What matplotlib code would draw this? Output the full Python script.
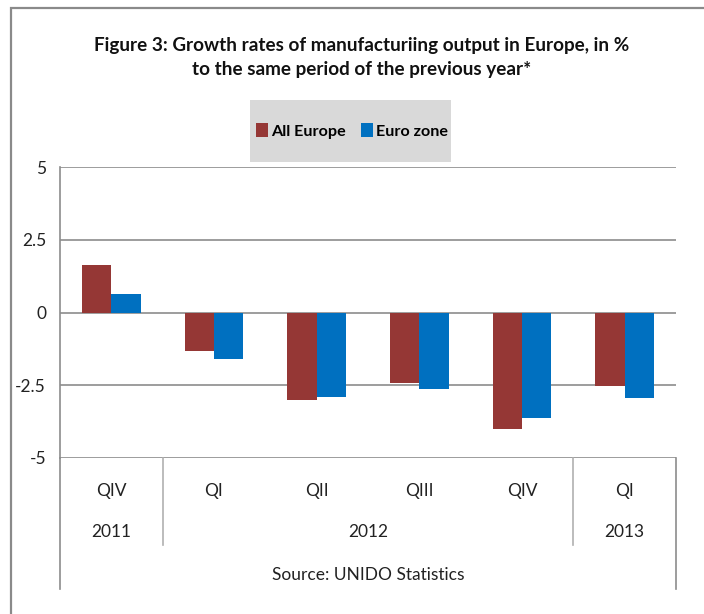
import matplotlib
matplotlib.use("Agg")
import matplotlib.pyplot as plt
import matplotlib.transforms as mtransforms
from matplotlib.patches import Rectangle
import numpy as np

plt.rcParams['font.family'] = ['Lato', 'DejaVu Sans']

quarters = ["QIV", "QI", "QII", "QIII", "QIV", "QI"]
years = ["2011", "2012", "2013"]
year_spans = [(0, 0), (1, 4), (5, 5)]
all_europe = [1.64, -1.31, -3.00, -2.43, -3.99, -2.54]
euro_zone = [0.62, -1.59, -2.91, -2.64, -3.62, -2.95]
series_names = ["All Europe", "Euro zone"]
yticks = [5, 2.5, 0, -2.5, -5]
ytick_labels = ["5", "2.5", "0", "-2.5", "-5"]
title = "Figure 3: Growth rates of manufacturiing output in Europe, in %\nto the same period of the previous year*"
source = "Source: UNIDO Statistics"

c_ae = "#953735"
c_ez = "#0070C0"
grid_c = "#8c8c8c"

W, H = 704, 614
fig = plt.figure(figsize=(W / 100, H / 100), dpi=100)

def fx(px):
    return px / W

def fy(py):
    return 1 - py / H

# outer chart border
fig.patches.append(Rectangle((fx(11), fy(700)), fx(800), fy(8) - fy(700),
                             transform=fig.transFigure, fill=False,
                             edgecolor="#8a8a8a", linewidth=1.6))

left, right, top, bottom = 60, 676, 167, 458
ax = fig.add_axes([fx(left), fy(bottom), fx(right - left), fy(top) - fy(bottom)])

x = np.arange(len(quarters))
bw = 0.285
ax.bar(x - bw / 2, all_europe, bw, color=c_ae, label=series_names[0], zorder=3)
ax.bar(x + bw / 2, euro_zone, bw, color=c_ez, label=series_names[1], zorder=3)

ax.set_xlim(-0.5, len(quarters) - 0.5)
ax.set_ylim(-5, 5)
ax.set_yticks(yticks)
ax.set_yticklabels(ytick_labels)
ax.tick_params(axis='y', length=0, pad=10, labelsize=12.5, colors="#222222")
ax.set_xticks([])
for yv in yticks:
    ax.axhline(yv, color=grid_c, linewidth=1.2, zorder=1)
for s in ["top", "right", "bottom"]:
    ax.spines[s].set_visible(False)
ax.spines["left"].set_color(grid_c)
ax.spines["left"].set_linewidth(1.2)

# category table below
trans = mtransforms.blended_transform_factory(ax.transData, ax.transAxes)
ph = bottom - top  # axes height in px

def ay(py):
    return (bottom - py) / ph

# outer table verticals
for xv, yend in [(-0.5, 589), (len(quarters) - 0.5, 589)]:
    ax.plot([xv, xv], [0, ay(yend)], transform=trans, color=grid_c,
            linewidth=1.2, clip_on=False)
# group separators
for a, b in year_spans[:-1]:
    xv = b + 0.5
    ax.plot([xv, xv], [0, ay(545)], transform=trans, color="#b0b0b0",
            linewidth=1.2, clip_on=False)

for i, q in enumerate(quarters):
    ax.text(i, ay(491), q, transform=trans, ha="center", va="center",
            fontsize=12.5, color="#222222")
for yr, (a, b) in zip(years, year_spans):
    ax.text((a + b) / 2, ay(532), yr, transform=trans, ha="center", va="center",
            fontsize=12.5, color="#222222")
ax.text(0.5, ay(575), source, transform=ax.transAxes, ha="center", va="center",
        fontsize=12.5, color="#222222")

# title
fig.text(fx(362), fy(57), title, ha="center", va="center", fontsize=13.6,
         fontweight="bold", linespacing=1.5, color="#111111")

# legend box
fig.patches.append(Rectangle((fx(250), fy(162)), fx(201), fy(100) - fy(162),
                             transform=fig.transFigure, facecolor="#d9d9d9",
                             edgecolor="none"))
h, l = ax.get_legend_handles_labels()
fig.legend(h, l, loc="center", bbox_to_anchor=(fx(352), fy(131)), ncol=2,
           frameon=False, handlelength=0.75, handleheight=0.9,
           handletextpad=0.2, columnspacing=0.9,
           prop={'weight': 'bold', 'size': 11.6})

fig.savefig("out.png", dpi=100)
